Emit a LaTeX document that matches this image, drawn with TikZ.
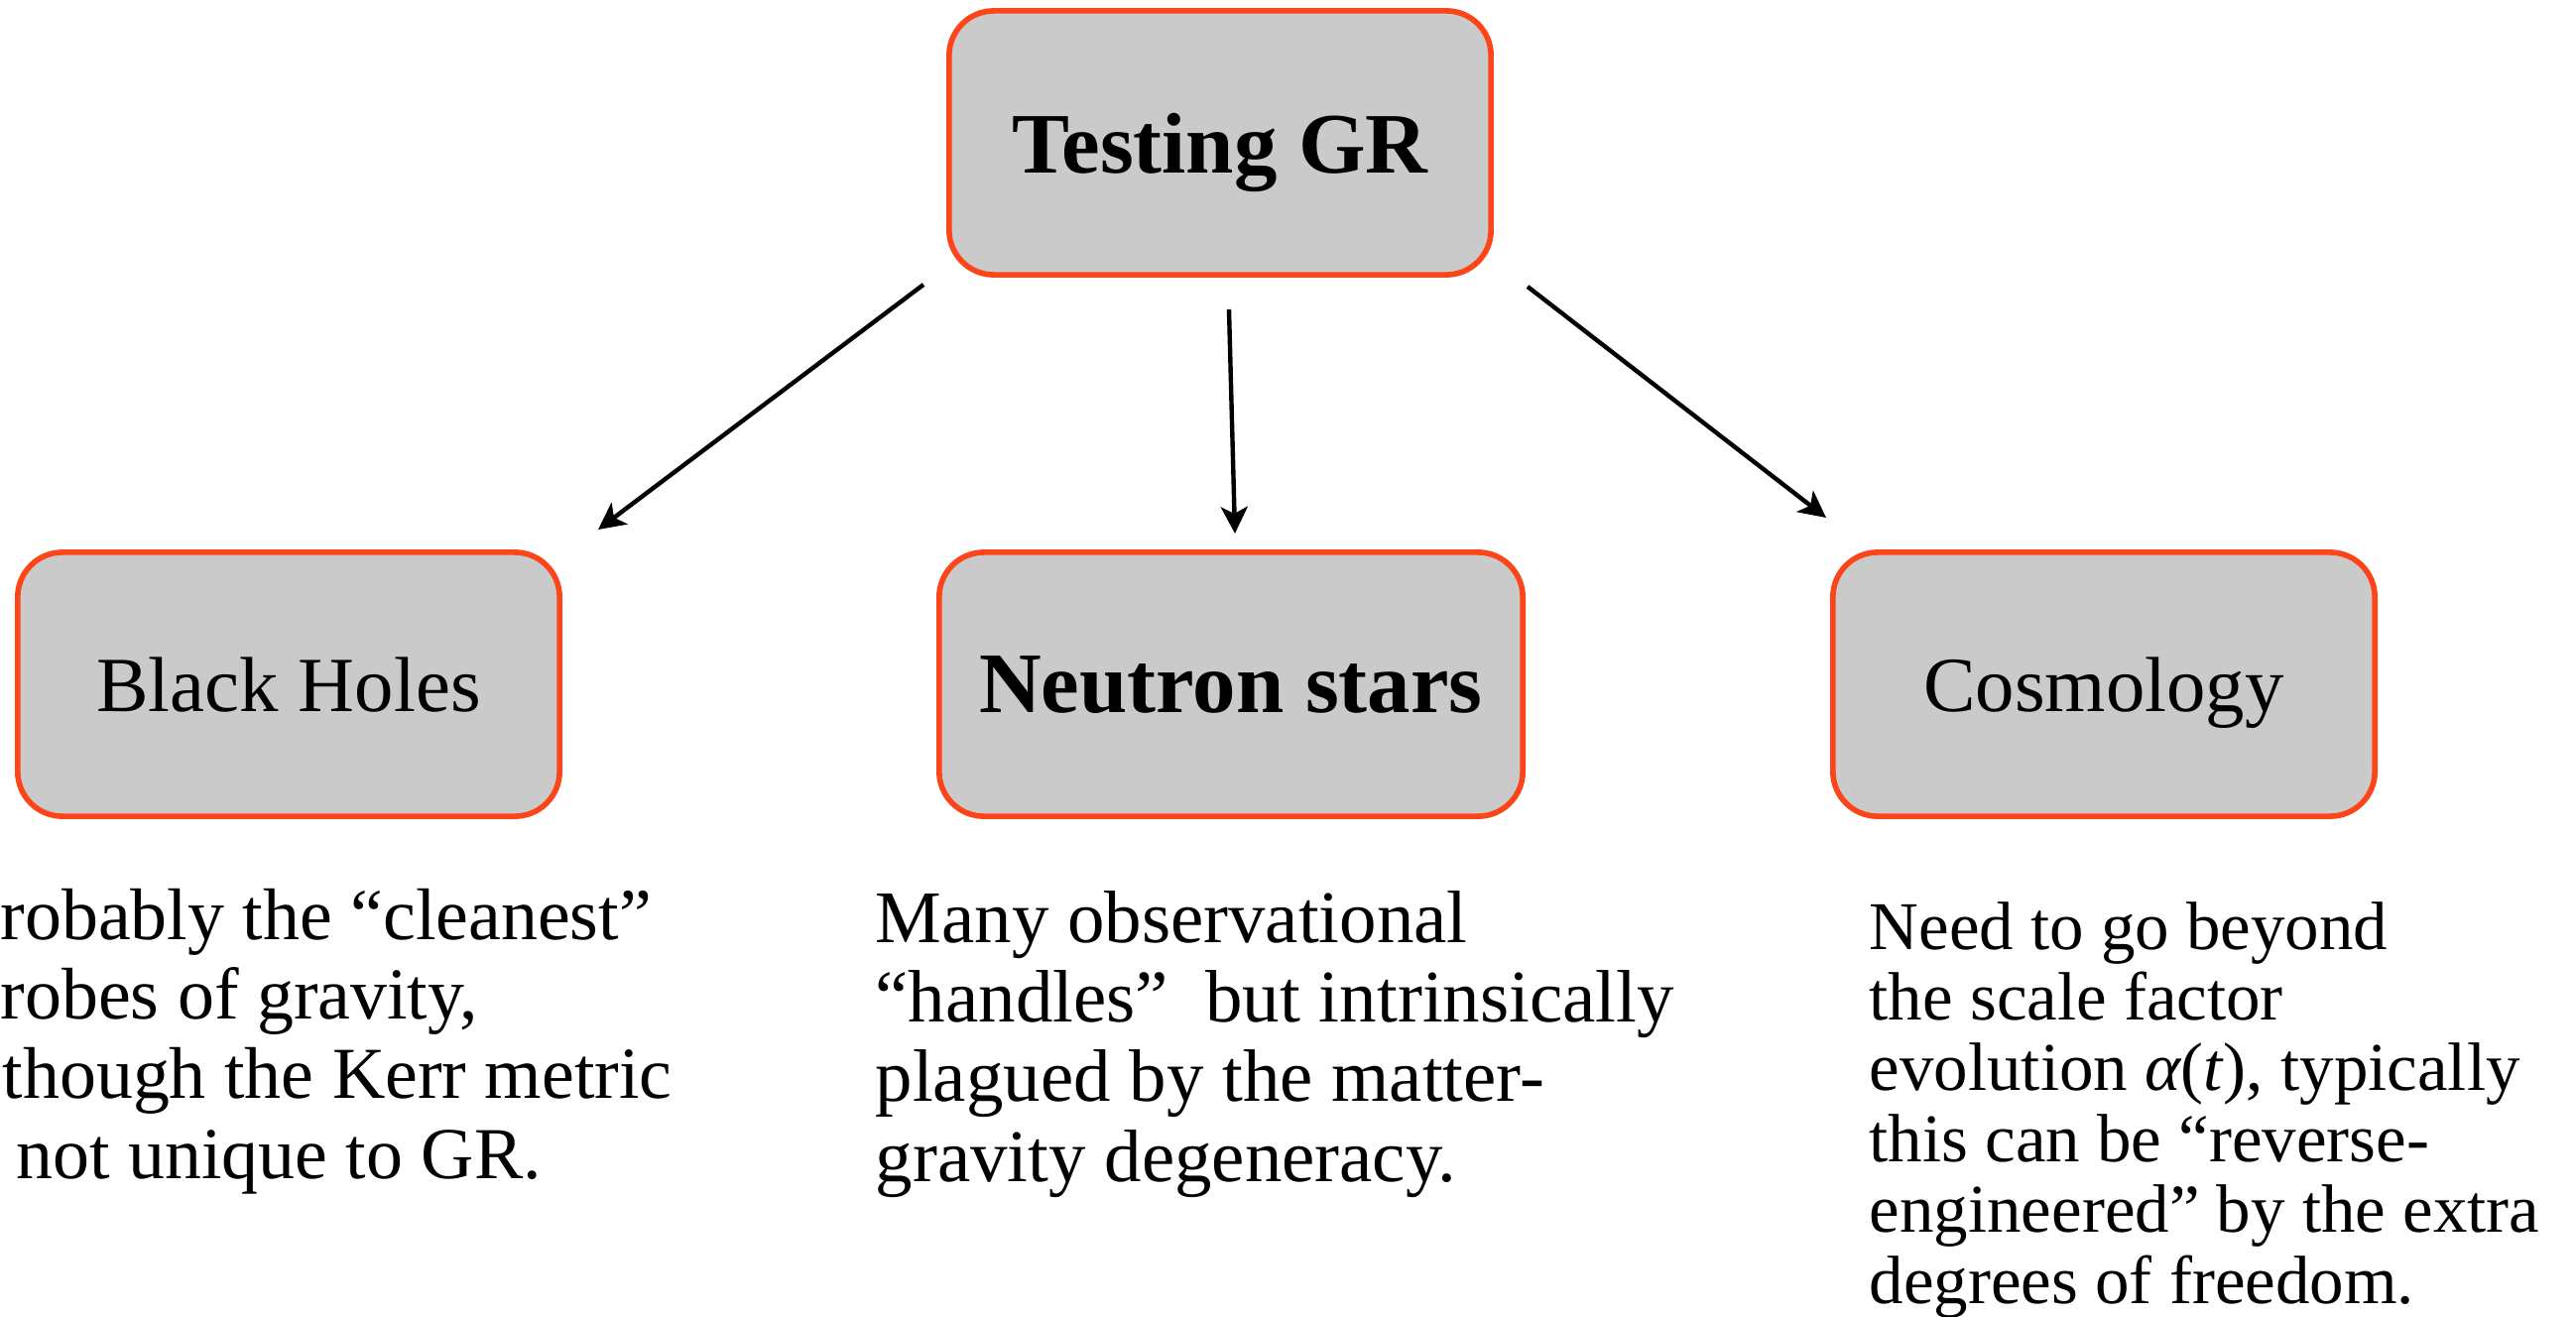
\documentclass[tikz,border=0pt]{standalone}
\usepackage{fontspec}
\setmainfont{Liberation Serif}
\usetikzlibrary{arrows.meta}
\definecolor{boxred}{RGB}{252,70,26}
\definecolor{boxgray}{RGB}{202,202,202}
\begin{document}
\begin{tikzpicture}[x=0.01cm,y=-0.01cm,
  topic/.style={draw=boxred, fill=boxgray, line width=1.6pt, rounded corners=0.45cm,
    minimum width=5.46cm, minimum height=2.66cm, inner sep=0pt, text depth=0pt},
  conn/.style={line width=1.25pt, -{Stealth[length=0.27cm,width=0.27cm,inset=0.07cm]}},
  note/.style={align=left, anchor=base west, inner sep=0pt},
  bigbold/.style={font=\fontsize{24.7}{28}\selectfont\bfseries},
  bigreg/.style={font=\fontsize{22.4}{26}\selectfont}]
\useasboundingbox (0,0) rectangle (2597,1327);
\node[topic, bigbold] (gr) at (1230,144) {Testing GR};
\node[topic, bigreg] (bh) at (291,690) {Black Holes};
\node[topic, bigbold, minimum width=5.88cm] (ns) at (1241,690) {Neutron stars};
\node[topic, bigreg] (co) at (2121,690) {Cosmology};
% anchor = baseline of the last line
\node[note, font=\fontsize{21}{22.8}\selectfont] (bht) at (0,1188)
  {robably the “cleanest”\\robes of gravity,\\\hspace*{0.02cm}though the Kerr metric\\\hspace*{0.16cm}not unique to GR.};
\node[note, font=\fontsize{21.3}{22.8}\selectfont] (nst) at (882,1191)
  {Many observational\\“handles”\ \ but intrinsically\\plagued by the matter-\\gravity degeneracy.};
\node[note, font=\fontsize{19.6}{20.3}\selectfont] (cot) at (1884,1314)
  {Need to go beyond\\the scale factor\\evolution {\itshape α}(\textit{t}), typically\\this can be “reverse-\\engineered” by the extra\\degrees of freedom.};
\coordinate (s1) at (931,287);
\coordinate (e1) at (603,534);
\coordinate (s2) at (1239,312);
\coordinate (e2) at (1245,538);
\coordinate (s3) at (1540,289);
\coordinate (e3) at (1841,522);
\draw[conn] (s1) -- (e1);
\draw[conn] (s2) -- (e2);
\draw[conn] (s3) -- (e3);
\end{tikzpicture}
\end{document}
